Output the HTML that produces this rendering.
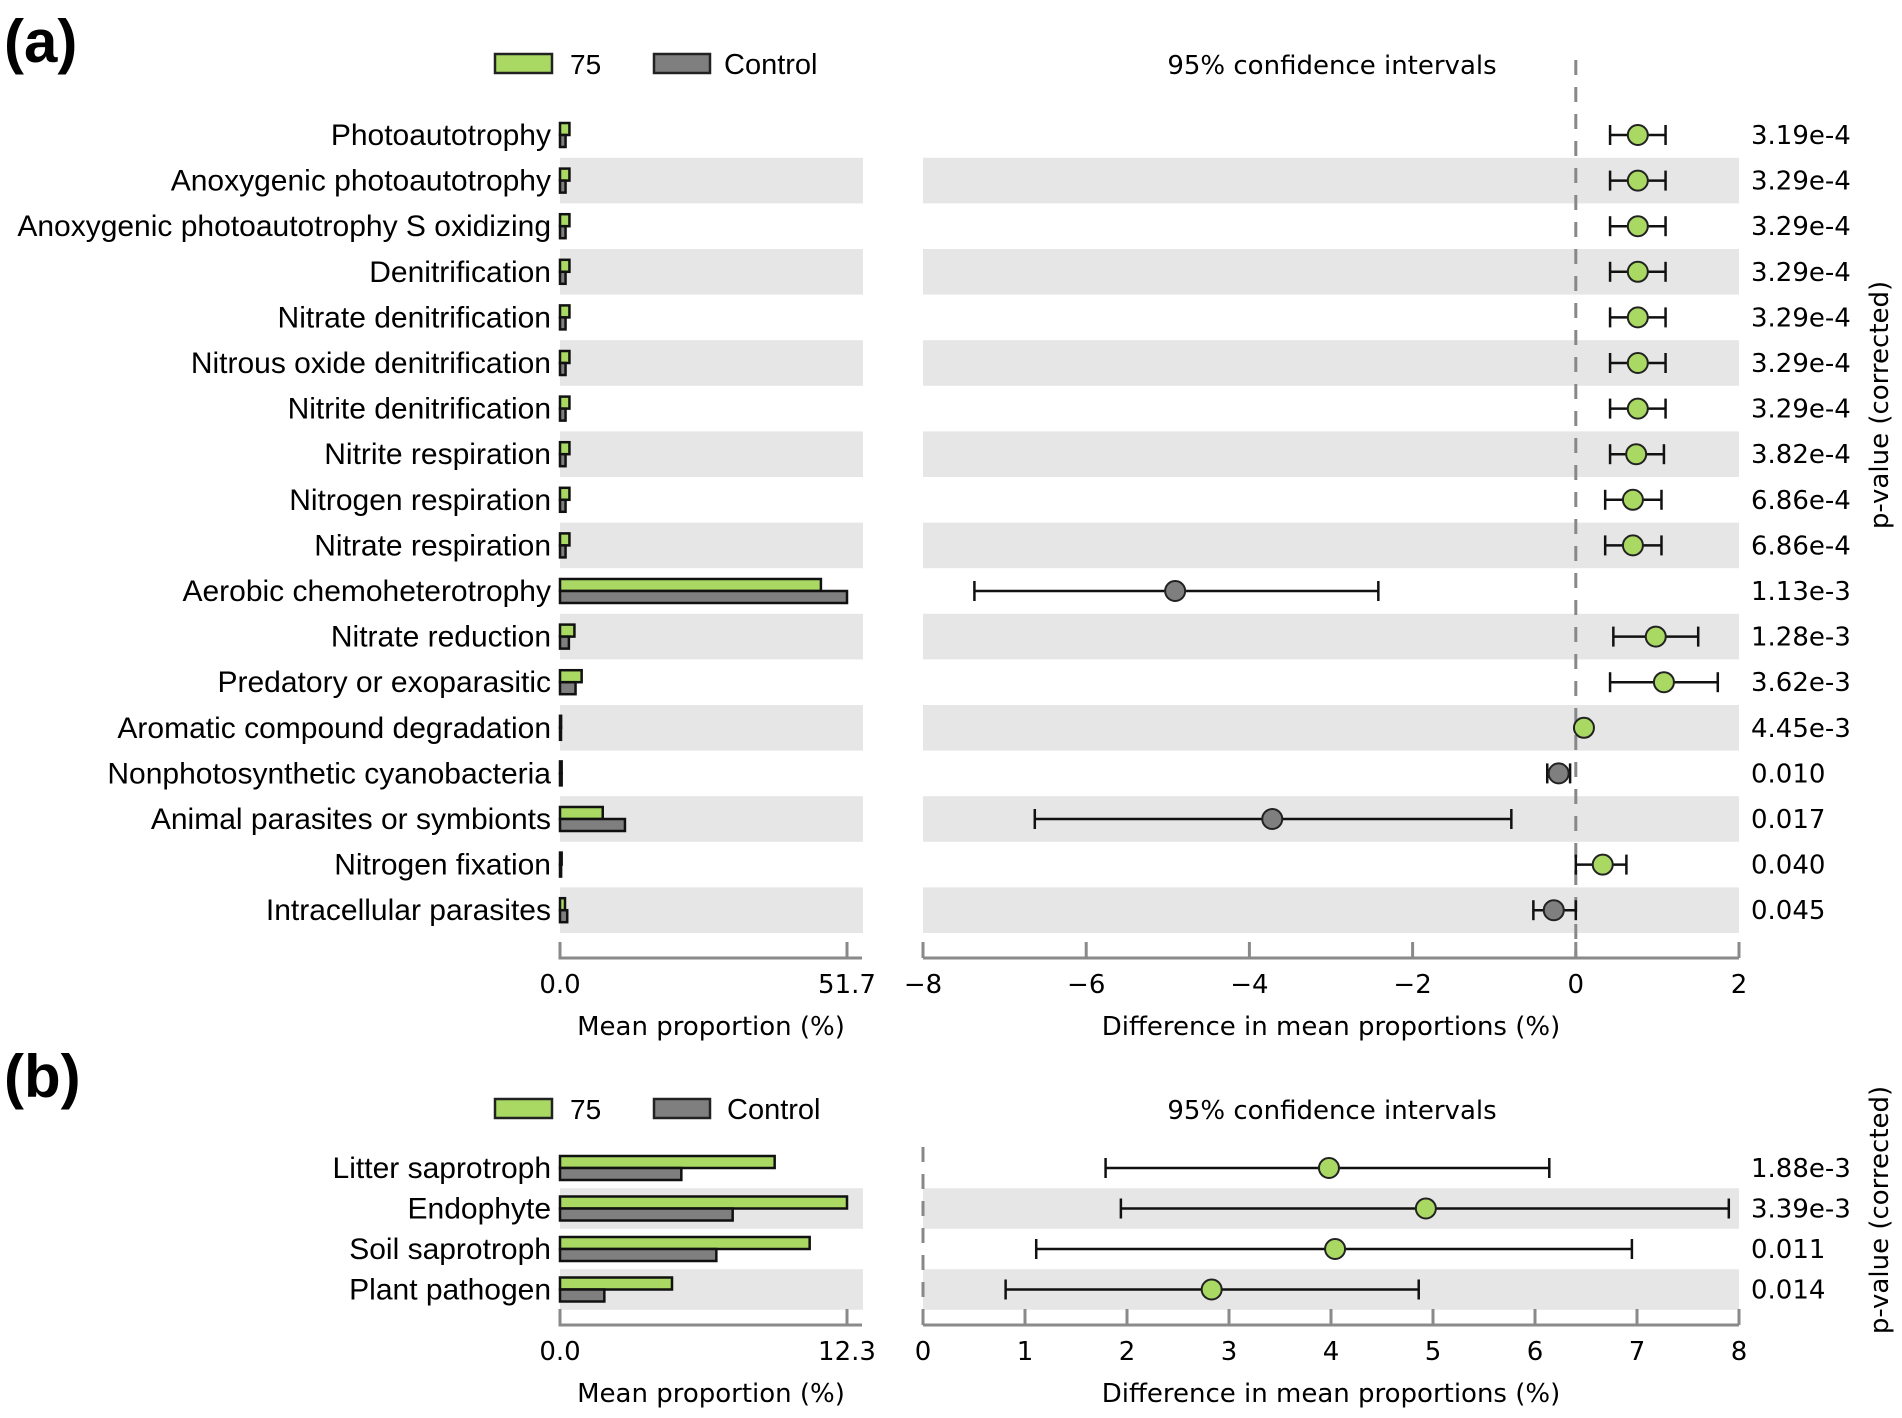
<!DOCTYPE html>
<html><head><meta charset="utf-8"><style>
body{margin:0;background:#fff}
svg{display:block;font-family:"DejaVu Sans","Liberation Sans",sans-serif}
</style></head><body>
<svg id="chart" width="1902" height="1418" viewBox="0 0 1902 1418" xmlns="http://www.w3.org/2000/svg">
<text x="4" y="62" font-size="60" font-weight="bold" font-family="Liberation Sans, sans-serif">(a)</text>
<text x="4" y="1097" font-size="60" font-weight="bold" font-family="Liberation Sans, sans-serif">(b)</text>
<g id="gA"></g><g id="gB"></g>
</svg>
<script>
// Panel A data
const catsA = ["Photoautotrophy","Anoxygenic photoautotrophy","Anoxygenic photoautotrophy S oxidizing","Denitrification","Nitrate denitrification","Nitrous oxide denitrification","Nitrite denitrification","Nitrite respiration","Nitrogen respiration","Nitrate respiration","Aerobic chemoheterotrophy","Nitrate reduction","Predatory or exoparasitic","Aromatic compound degradation","Nonphotosynthetic cyanobacteria","Animal parasites or symbionts","Nitrogen fixation","Intracellular parasites"];
const greenA = [1.7,1.7,1.7,1.7,1.7,1.7,1.7,1.7,1.7,1.7,47.0,2.6,3.9,0.2,0.3,7.7,0.3,0.9];
const grayA = [1.0,1.0,1.0,1.0,1.0,1.0,1.0,1.0,1.0,1.0,51.7,1.6,2.8,0.1,0.3,11.7,0.2,1.3];
const diffA = [0.76,0.76,0.76,0.76,0.76,0.76,0.76,0.74,0.70,0.70,-4.91,0.98,1.08,0.10,-0.21,-3.72,0.33,-0.27];
const loA = [0.42,0.42,0.42,0.42,0.42,0.42,0.42,0.42,0.36,0.36,-7.37,0.46,0.42,0.05,-0.35,-6.63,0.0,-0.52];
const hiA = [1.10,1.10,1.10,1.10,1.10,1.10,1.10,1.08,1.05,1.05,-2.42,1.50,1.74,0.15,-0.07,-0.79,0.62,0.0];
const pA = ["3.19e-4","3.29e-4","3.29e-4","3.29e-4","3.29e-4","3.29e-4","3.29e-4","3.82e-4","6.86e-4","6.86e-4","1.13e-3","1.28e-3","3.62e-3","4.45e-3","0.010","0.017","0.040","0.045"];
const ticksA = [-8,-6,-4,-2,0,2];
// Panel B data
const catsB = ["Litter saprotroph","Endophyte","Soil saprotroph","Plant pathogen"];
const greenB = [9.2,12.3,10.7,4.8];
const grayB = [5.2,7.4,6.7,1.9];
const diffB = [3.98,4.93,4.04,2.83];
const loB = [1.79,1.94,1.11,0.81];
const hiB = [6.14,7.90,6.95,4.86];
const pB = ["1.88e-3","3.39e-3","0.011","0.014"];
const ticksB = [0,1,2,3,4,5,6,7,8];

const NS="http://www.w3.org/2000/svg";
const GREEN="#a9d863", GRAY="#7f7f7f", BAND="#e6e6e6", AX="#8a8a8a";
function mk(parent,tag,attrs,txt){const e=document.createElementNS(NS,tag);for(const k in attrs)e.setAttribute(k,attrs[k]);if(txt!==undefined)e.textContent=txt;parent.appendChild(e);return e;}

function panel(g,o){
  const n=o.cats.length;
  const yOf=i=>o.y0+i*o.step;
  const xb=v=>560+v/o.barMax*287;
  const xd=v=>o.dx0+(v-o.dmin)/(o.dmax-o.dmin)*(1739-o.dx0);
  let e=mk(g,'rect',{x:495,y:o.legY-10,width:57,height:19,fill:GREEN,stroke:'#222','stroke-width':2.5});
  
  
  e=mk(g,'text',{x:570,y:o.legY+10,'font-size':28,'font-family':'Liberation Sans, sans-serif'},'75');
  
  
  e=mk(g,'rect',{x:654,y:o.legY-10,width:56,height:19,fill:GRAY,stroke:'#222','stroke-width':2.5});
  
  
  e=mk(g,'text',{x:o.ctrlX,y:o.legY+10,'font-size':29,'font-family':'Liberation Sans, sans-serif'},'Control');
  
  
  e=mk(g,'text',{x:1332,y:o.legY+10,'font-size':26,'text-anchor':'middle'},'95% confidence intervals');
  
  
  for(let i=0;i<n;i++){ if(i%2==1){
    const yt=yOf(i)-o.step/2;
    e=mk(g,'rect',{x:560,y:yt,width:303,height:o.step,fill:BAND});
    
    
    e=mk(g,'rect',{x:923,y:yt,width:816,height:o.step,fill:BAND});
    
    
  }}
  e=mk(g,'line',{x1:xd(0),x2:xd(0),y1:o.zTop,y2:o.axY,stroke:'#888','stroke-width':3,'stroke-dasharray':'15 12'});
  
  
  for(let i=0;i<n;i++){
    const y=yOf(i);
    e=mk(g,'text',{x:551,y:y+10,'font-size':30,'text-anchor':'end','font-family':'Liberation Sans, sans-serif'},o.cats[i]);
    
    
    e=mk(g,'rect',{x:560,y:y-o.bh,width:Math.max(1,xb(o.green[i])-560),height:o.bh,fill:GREEN,stroke:'#111','stroke-width':2.5});
    
    
    e=mk(g,'rect',{x:560,y:y,width:Math.max(1,xb(o.gray[i])-560),height:o.bh,fill:GRAY,stroke:'#111','stroke-width':2.5});
    
    
    const x1=xd(o.lo[i]),x2=xd(o.hi[i]);
    e=mk(g,'line',{x1:x1,x2:x2,y1:y,y2:y,stroke:'#111','stroke-width':2.5});
    
    
    e=mk(g,'line',{x1:x1,x2:x1,y1:y-10,y2:y+10,stroke:'#111','stroke-width':2.5});
    
    
    e=mk(g,'line',{x1:x2,x2:x2,y1:y-10,y2:y+10,stroke:'#111','stroke-width':2.5});
    
    
    e=mk(g,'circle',{cx:xd(o.diff[i]),cy:y,r:10,fill:o.diff[i]>=0?GREEN:GRAY,stroke:'#222','stroke-width':2});
    
    
    e=mk(g,'text',{x:1751,y:y+9,'font-size':26},o.p[i]);
    
    
  }
  e=mk(g,'path',{d:`M560,${o.axY-16}V${o.axY}H862M847,${o.axY-16}V${o.axY}`,fill:'none',stroke:AX,'stroke-width':3});
  
  
  e=mk(g,'text',{x:560,y:o.axY+35,'font-size':26,'text-anchor':'middle'},'0.0');
  
  
  e=mk(g,'text',{x:847,y:o.axY+35,'font-size':26,'text-anchor':'middle'},o.barMaxLabel);
  
  
  e=mk(g,'text',{x:711,y:o.axY+77,'font-size':26,'text-anchor':'middle'},'Mean proportion (%)');
  
  
  e=mk(g,'line',{x1:923,x2:1739,y1:o.axY,y2:o.axY,stroke:AX,'stroke-width':3});
  
  
  for(const t of o.ticks){
    e=mk(g,'line',{x1:xd(t),x2:xd(t),y1:o.axY-16,y2:o.axY,stroke:AX,'stroke-width':3});
    
    
    e=mk(g,'text',{x:xd(t),y:o.axY+35,'font-size':26,'text-anchor':'middle'},t<0?'\u2212'+(-t):String(t));
    
    
  }
  e=mk(g,'text',{x:1331,y:o.axY+77,'font-size':26,'text-anchor':'middle'},'Difference in mean proportions (%)');
  
  
  e=mk(g,'text',{x:0,y:0,'font-size':26,'text-anchor':'middle',transform:`translate(1888,${o.pvY}) rotate(-90)`},'p-value (corrected)');
  
  
}
panel(document.getElementById('gA'),{cats:catsA,green:greenA,gray:grayA,diff:diffA,lo:loA,hi:hiA,p:pA,ticks:ticksA,
  y0:135,step:45.6,bh:12,barMax:51.7,barMaxLabel:'51.7',dmin:-8,dmax:2,dx0:923,axY:958,legY:64,zTop:60,ctrlX:724,pvY:405});
panel(document.getElementById('gB'),{cats:catsB,green:greenB,gray:grayB,diff:diffB,lo:loB,hi:hiB,p:pB,ticks:ticksB,
  y0:1168,step:40.5,bh:12,barMax:12.3,barMaxLabel:'12.3',dmin:0,dmax:8,dx0:923,axY:1325,legY:1109,zTop:1147,ctrlX:727,pvY:1210});
</script>
</body></html>
